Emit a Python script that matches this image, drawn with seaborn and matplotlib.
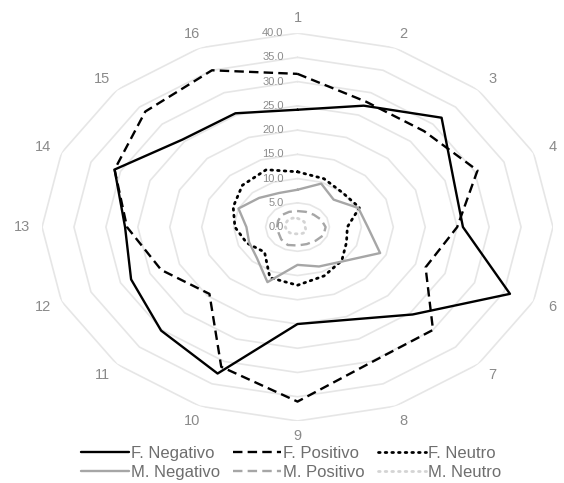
import numpy as np
import pandas as pd
import matplotlib
matplotlib.use('Agg')
import matplotlib.pyplot as plt
import seaborn as sns

# valores (ejes 1..16, sentido horario desde arriba)
ejes = [str(i) for i in range(1, 17)]
f_negativo = [24.2, 27.1, 31.9, 26.4, 25.9, 36.0, 25.5, 20.7, 20.0, 32.7, 30.2, 28.2, 27.0, 31.0, 25.5, 25.4]
f_positivo = [31.6, 28.0, 28.0, 30.5, 25.0, 21.7, 30.0, 30.2, 36.0, 31.2, 19.5, 23.1, 26.7, 31.0, 33.7, 35.0]
f_neutro = [11.4, 10.8, 10.0, 10.5, 7.8, 8.3, 9.8, 10.9, 12.0, 11.3, 7.3, 8.6, 9.8, 10.9, 12.2, 12.8]
m_negativo = [7.7, 9.7, 8.0, 10.3, 11.0, 14.0, 10.0, 8.8, 7.8, 12.3, 9.0, 8.2, 8.0, 10.0, 8.5, 7.6]
m_positivo = [3.3, 3.4, 3.6, 4.0, 4.4, 4.4, 4.0, 3.8, 3.8, 4.0, 3.6, 3.2, 3.2, 3.3, 3.5, 3.4]
m_neutro = [1.8, 1.6, 1.5, 1.3, 1.2, 1.4, 1.6, 1.5, 1.4, 1.5, 1.7, 1.8, 1.9, 2.0, 2.1, 2.0]
niveles = [0, 5, 10, 15, 20, 25, 30, 35, 40]

series = {
    'F. Negativo': f_negativo,
    'F. Positivo': f_positivo,
    'F. Neutro': f_neutro,
    'M. Negativo': m_negativo,
    'M. Positivo': m_positivo,
    'M. Neutro': m_neutro,
}
estilos = {
    'F. Negativo': dict(color='black', linestyle='-', lw=1.7),
    'F. Positivo': dict(color='black', linestyle=(0, (4, 2.2)), lw=1.7),
    'F. Neutro': dict(color='black', linestyle=(0, (0.6, 1.8)), lw=2.0, dash_capstyle='round'),
    'M. Negativo': dict(color='#a6a6a6', linestyle='-', lw=1.7),
    'M. Positivo': dict(color='#a6a6a6', linestyle=(0, (4, 2.2)), lw=1.7),
    'M. Neutro': dict(color='#d4d4d4', linestyle=(0, (0.6, 1.8)), lw=2.0, dash_capstyle='round'),
}

sns.set_theme(style='white')
plt.rcParams['font.family'] = ['Liberation Sans', 'DejaVu Sans']

n = len(ejes)
theta = np.linspace(0, 2 * np.pi, n, endpoint=False)
theta_c = np.append(theta, 2 * np.pi)

fig = plt.figure(figsize=(5.64, 4.83), dpi=100)
ax = fig.add_axes([0.0745, 0.1284, 0.906, 0.803], projection='polar')
ax.set_aspect('auto')
ax.set_theta_zero_location('N')
ax.set_theta_direction(-1)

# rejilla poligonal
for v in niveles[1:]:
    ax.plot(theta_c, [v] * (n + 1), color='#e6e6e6', lw=1.2, zorder=0)

handles = {}
for nombre, vals in series.items():
    df = pd.DataFrame({'theta': theta_c, 'valor': np.append(vals, vals[0])})
    sns.lineplot(data=df, x='theta', y='valor', sort=False, ax=ax,
                 estimator=None, **estilos[nombre])
    handles[nombre] = ax.lines[-1]

ax.set_ylim(0, 40)
ax.set_xticks([])
ax.set_yticks([])
ax.grid(False)
ax.spines['polar'].set_visible(False)
ax.set_xlabel('')
ax.set_ylabel('')
if ax.get_legend():
    ax.get_legend().remove()

# etiquetas del eje radial
for v in niveles:
    ax.annotate(f'{v:.1f}', xy=(0, v), xytext=(-10, 0), textcoords='offset points',
                ha='right', va='center', fontsize=8, color='#8c8c8c')

# etiquetas de categorias
for t, lab in zip(theta, ejes):
    ax.text(t, 43.2, lab, ha='center', va='center', fontsize=10.5,
            color='#8a8a8a', clip_on=False)

orden = ['F. Negativo', 'M. Negativo', 'F. Positivo', 'M. Positivo', 'F. Neutro', 'M. Neutro']
fig.legend([handles[k] for k in orden], orden, loc='center',
           bbox_to_anchor=(0.516, 0.0424), ncol=3, frameon=False, fontsize=12,
           handlelength=2.9, handletextpad=0.1, columnspacing=0.8,
           labelspacing=0.24, labelcolor='#6e6e6e', borderpad=0.1)

fig.savefig('out.png', dpi=100)
